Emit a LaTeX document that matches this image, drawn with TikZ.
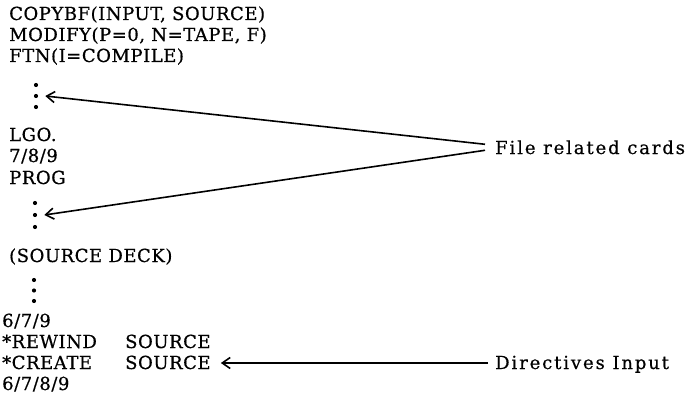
\documentclass[tikz,border=0pt]{standalone}
\usepackage{fontspec}
\newfontfamily\cardfont{DejaVu Serif}[LetterSpace=3,FakeBold=0.6]
\newfontfamily\lblfont{DejaVu Serif}[LetterSpace=10.5,FakeBold=0.6]
\usetikzlibrary{arrows.meta}
\begin{document}
\begin{tikzpicture}[x=1pt,y=-1pt,
  card/.style={anchor=base west, inner sep=0pt, font=\cardfont\fontsize{18}{21}\selectfont},
  lbl/.style={anchor=base west, inner sep=0pt, font=\lblfont\fontsize{18}{21}\selectfont},
  dot/.style={circle, fill=black, inner sep=0pt, minimum size=4.2pt},
  ptr/.style={-{Straight Barb[length=8pt,width=11pt,line width=1.6pt]}, line width=1.6pt}]
\useasboundingbox (0,0) rectangle (693,404);
% top block
\node[card] (c1) at (9,20) {COPYBF(INPUT, SOURCE)};
\node[card] (c2) at (9,41) {MODIFY(P=0, N=TAPE, F)};
\node[card] (c3) at (9,62) {FTN(I=COMPILE)};
\node[dot] (d1a) at (36,85) {};
\node[dot] (d1b) at (36,96) {};
\node[dot] (d1c) at (36,107) {};
% middle block
\node[card] (l1) at (9,141) {LGO.};
\node[card] (l2) at (9,162) {7/8/9};
\node[card] (l3) at (9,184) {PROG};
\node[dot] (d2a) at (35,203) {};
\node[dot] (d2b) at (35,215) {};
\node[dot] (d2c) at (35,227) {};
\node[card] (sd) at (9,262) {(SOURCE DECK)};
\node[dot] (d3a) at (34,280) {};
\node[dot] (d3b) at (34,290.5) {};
\node[dot] (d3c) at (34,301) {};
% bottom block
\node[card] (b1) at (2,327) {6/7/9};
\node[card] (rw) at (2,348) {*REWIND};
\node[card] (rs) at (125,348) {SOURCE};
\node[card] (cr) at (2,369) {*CREATE};
\node[card] (cs) at (125,369) {SOURCE};
\node[card] (b4) at (2,390) {6/7/8/9};
% labels
\node[lbl] (frc) at (495,154) {File related cards};
\node[lbl] (dir) at (495,369) {Directives Input};
% connectors
\coordinate (fa) at ([xshift=-10pt,yshift=3pt]frc.west);
\coordinate (fb) at ([xshift=-10pt,yshift=-3pt]frc.west);
\coordinate (ds) at ([xshift=-7pt,yshift=6pt]dir.base west);
\draw[ptr] (fa) -- ([xshift=7pt]d1b.east);
\draw[ptr] (fb) -- ([xshift=7pt]d2b.east);
\draw[ptr] (ds) -- ([xshift=10pt]ds -| cs.east);
\end{tikzpicture}
\end{document}
